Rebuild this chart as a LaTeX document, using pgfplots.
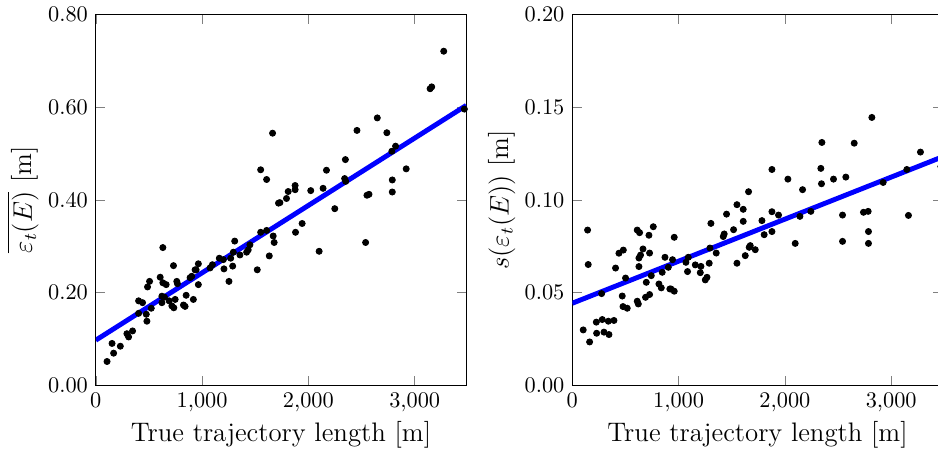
\documentclass[border=0pt]{standalone}
\usepackage{pgfplots}
\pgfplotsset{compat=1.18}
\begin{document}
\begin{tikzpicture}
\pgfplotsset{
  myax/.style={
    scale only axis, width=166pt, height=166pt,
    xmin=0, xmax=3485,
    xtick={0,1000,2000,3000},
    label style={font=\large},
    xlabel={True trajectory length [m]},
    xlabel shift=-2.7pt, ylabel shift=-2.6pt,
    yticklabel style={/pgf/number format/.cd, fixed, fixed zerofill, precision=2},
  },
  dots/.style={only marks, mark=*, mark size=1.35pt, black},
  fit/.style={blue, line width=2.2pt, no marks},
}
\begin{axis}[myax, name=left, at={(0,0)}, anchor=south west,
  ymin=0, ymax=0.8, ytick={0,0.2,0.4,0.6,0.8},
  ylabel={$\overline{\varepsilon_t(E)}$ [m]}]
\addplot[fit] coordinates {(0,0.097) (3485,0.604)};
\addplot[dots] coordinates {
(106,0.051) (168,0.069) (153,0.090) (231,0.084) (293,0.111) (309,0.104)
(346,0.117) (403,0.155) (403,0.182) (440,0.178) (475,0.153) (481,0.138)
(522,0.166) (487,0.212) (506,0.224) (631,0.297) (606,0.233) (631,0.221)
(662,0.217) (622,0.192) (646,0.190) (622,0.178) (690,0.182) (716,0.171)
(734,0.167) (731,0.258) (762,0.224) (768,0.219) (747,0.185) (825,0.173)
(840,0.170) (850,0.194) (887,0.232) (903,0.235) (918,0.185) (934,0.249)
(965,0.217) (944,0.249) (965,0.262) (1075,0.253) (1097,0.260) (1162,0.274)
(1200,0.271) (1206,0.251) (1253,0.224) (1269,0.274) (1294,0.287) (1307,0.311)
(1288,0.257) (1356,0.281) (1419,0.287) (1434,0.292) (1450,0.303) (1519,0.249)
(1551,0.330) (1607,0.334) (1632,0.279) (1669,0.322) (1678,0.308) (1719,0.393)
(1794,0.403) (1810,0.418) (1663,0.544) (1551,0.465) (1607,0.444) (3273,0.721)
(3145,0.640) (3160,0.644) (3467,0.596) (2648,0.577) (2457,0.550) (2738,0.545)
(2820,0.516) (2785,0.505) (2348,0.487) (2170,0.464) (2920,0.467) (2341,0.446)
(2351,0.440) (2789,0.443) (2789,0.417) (2138,0.425) (2022,0.420) (1875,0.431)
(1875,0.422) (2551,0.410) (2570,0.412) (2248,0.381) (1941,0.349) (1879,0.330)
(2101,0.289) (2538,0.308) (1732,0.394)
};
\end{axis}
\begin{axis}[myax, name=right, at={(213.5pt,0)}, anchor=south west,
  ymin=0, ymax=0.2, ytick={0,0.05,0.1,0.15,0.2},
  ylabel={$s(\varepsilon_t(E))$ [m]}]
\addplot[fit] coordinates {(0,0.0442) (3485,0.1233)};
\addplot[dots] coordinates {
(103,0.0298) (163,0.0233) (144,0.0837) (150,0.0651) (226,0.0340) (229,0.0280)
(282,0.0354) (298,0.0286) (345,0.0273) (339,0.0345) (392,0.0349) (276,0.0494)
(407,0.0632) (439,0.0712) (480,0.0729) (470,0.0481) (477,0.0424) (517,0.0415)
(501,0.0578) (611,0.0837) (633,0.0823) (762,0.0855) (721,0.0809) (665,0.0735)
(627,0.0686) (642,0.0702) (727,0.0713) (627,0.0640) (743,0.0591) (696,0.0555)
(611,0.0453) (621,0.0438) (689,0.0474) (727,0.0489) (815,0.0546) (837,0.0525)
(846,0.0609) (872,0.0690) (903,0.0636) (918,0.0519) (943,0.0677) (959,0.0798)
(928,0.0519) (959,0.0507) (1069,0.0663) (1091,0.0690) (1084,0.0613) (1157,0.0649)
(1210,0.0641) (1204,0.0607) (1251,0.0568) (1267,0.0582) (1288,0.0658) (1295,0.0740)
(1304,0.0873) (1354,0.0713) (1420,0.0802) (1429,0.0816) (1451,0.0923) (1517,0.0839)
(1549,0.0658) (1549,0.0974) (1608,0.0949) (1608,0.0884) (1658,0.1044) (1627,0.0699)
(1664,0.0744) (1674,0.0753) (1721,0.0731) (1784,0.0888) (1805,0.0812) (1878,0.1164)
(2028,0.1112) (2166,0.1055) (2338,0.1170) (2348,0.1310) (2344,0.1087) (2457,0.1112)
(2573,0.1123) (2652,0.1306) (2818,0.1445) (2924,0.1094) (3147,0.1164) (3275,0.1258)
(1878,0.0936) (1940,0.0918) (1878,0.0829) (2097,0.0765) (2141,0.0911) (2244,0.0938)
(2542,0.0918) (2542,0.0776) (2739,0.0933) (2783,0.0938) (2786,0.0829) (2786,0.0765)
(3162,0.0916) (3467,0.1180)
};
\coordinate (cropx) at (axis cs:3440,0);
\end{axis}
\coordinate (bbsw) at (current bounding box.south west);
\coordinate (bbne) at (current bounding box.north east);
\pgfresetboundingbox
\path[use as bounding box] (bbsw) rectangle (bbne -| cropx);
\end{tikzpicture}
\end{document}
